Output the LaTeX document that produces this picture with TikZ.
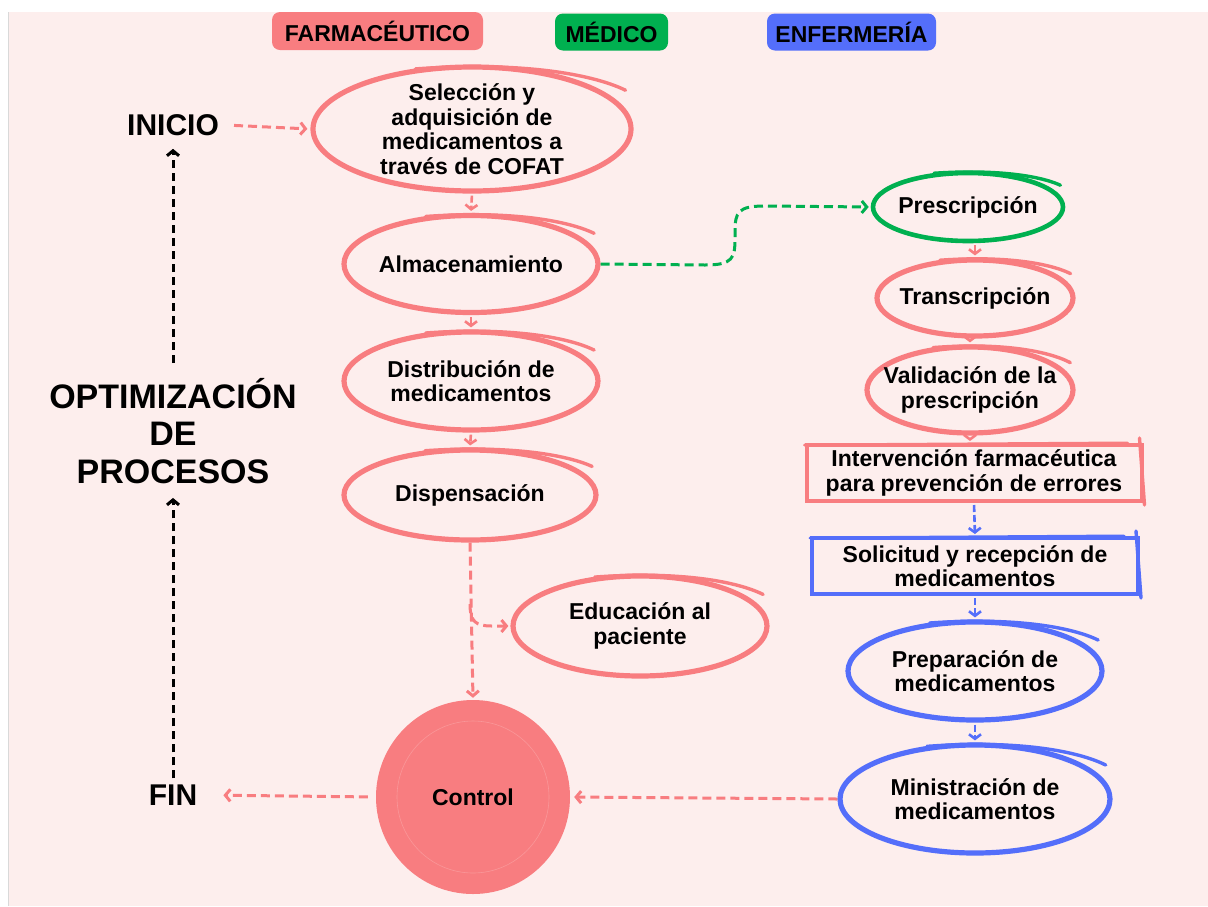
\documentclass[tikz,border=0pt]{standalone}
\usepackage{fontspec}
\setmainfont{Liberation Sans}
\usetikzlibrary{arrows.meta,calc,shapes.geometric}
\definecolor{bgc}{RGB}{253,238,237}
\definecolor{redc}{RGB}{248,125,128}
\definecolor{greenc}{RGB}{0,176,80}
\definecolor{bluec}{RGB}{84,110,250}
\newcommand\swoosh[2]{%
  \draw[#2, line width=3.4pt, line cap=round] let \p1=(#1.center), \p2=(#1.east), \p3=(#1.north) in
    ({\x1-0.35*(\x2-\x1)}, {\y1+0.93*(\y3-\y1)})
    .. controls ({\x1+0.25*(\x2-\x1)}, {\y1+1.04*(\y3-\y1)}) and ({\x1+0.72*(\x2-\x1)}, {\y1+0.88*(\y3-\y1)})
    .. ({\x1+0.95*(\x2-\x1)}, {\y1+0.6*(\y3-\y1)});}
\newcommand\rsketch[2]{%
  \draw[#2, line width=3.4pt, line cap=round] ($(#1.north east)+(-4,-5)$) -- ($(#1.south east)+(1,2)$);
  \draw[#2, line width=3pt, line cap=round] ($(#1.north west)+(0,2)$) -- ($(#1.north east)+(-16,0)$);}
\tikzset{
  x=1pt, y=-1pt,
  nodefont/.style={font=\fontsize{23}{24.5}\selectfont\bfseries},
  bub/.style={ellipse, draw, line width=5.2pt, inner sep=-40pt, align=center, nodefont, text=black},
  sbox/.style={rectangle, draw, line width=4pt, inner sep=0pt, align=center, nodefont, text=black},
  hdr/.style={rectangle, rounded corners=8pt, inner sep=0pt, nodefont, text=black},
  bigtxt/.style={inner sep=6pt, align=center, text=black},
  tipb/.style={-{Straight Barb[length=5pt,width=12pt]}},
  dashr/.style={redc, line width=3pt, dash pattern=on 9pt off 5pt, tipb},
  dashg/.style={greenc, line width=3pt, dash pattern=on 9pt off 5pt, tipb},
  dashk/.style={black, line width=3pt, dash pattern=on 8pt off 5pt, tipb},
  sarr/.style={line width=2.6pt, dash pattern=on 7pt off 3pt, -{Straight Barb[length=4.5pt,width=12pt]}, shorten <=2pt, shorten >=2pt},
}
\begin{document}
\begin{tikzpicture}
\useasboundingbox (0,0) rectangle (1208,906);
\fill[white] (0,0) rectangle (1208,906);
\fill[bgc] (8,12) rectangle (1208,906);
\draw[black!15, line width=1pt] (8.5,12) -- (8.5,906);

% headers
\node[hdr, fill=redc, minimum width=211, minimum height=38] (hf) at (377.5,31) {FARMACÉUTICO};
\node[hdr, fill=greenc, minimum width=113, minimum height=37] (hm) at (611.5,32) {MÉDICO};
\node[hdr, fill=bluec, minimum width=169, minimum height=37] (he) at (851.5,32) {ENFERMERÍA};

% left labels
\node[bigtxt, font=\fontsize{30}{32}\selectfont\bfseries] (inicio) at (173,125) {INICIO};
\node[bigtxt, font=\fontsize{34}{37.5}\selectfont\bfseries] (optim) at (173,431) {OPTIMIZACIÓN\\DE\\PROCESOS};
\node[bigtxt, font=\fontsize{30}{32}\selectfont\bfseries] (fin) at (173,795) {FIN};

% pharmacist column
\node[bub, draw=redc, minimum width=318, minimum height=124] (sel) at (472,129) {Selección y\\adquisición de\\medicamentos a\\través de COFAT};
\node[bub, draw=redc, minimum width=254, minimum height=97] (alm) at (471,264) {Almacenamiento};
\node[bub, draw=redc, minimum width=254, minimum height=98] (dist) at (471,381) {Distribución de\\medicamentos};
\node[bub, draw=redc, minimum width=252, minimum height=90] (disp) at (470,495) {Dispensación};
\node[bub, draw=redc, minimum width=254, minimum height=100] (edu) at (640,626) {Educación al\\paciente};
\node[circle, fill=redc, minimum size=194, inner sep=0pt, nodefont, text=black] (control) at (473,797) {Control};
\draw[white, opacity=0.2, line width=0.6pt] (control.center) circle[radius=76];

% right column
\node[bub, draw=greenc, line width=4.6pt, minimum width=190, minimum height=68] (presc) at (968,207) {Prescripción};
\node[bub, draw=redc, minimum width=196, minimum height=76] (trans) at (975,298) {Transcripción};
\node[bub, draw=redc, minimum width=206, minimum height=86] (valid) at (970,390) {Validación de la\\prescripción};
\node[sbox, draw=redc, minimum width=335, minimum height=56] (interv) at (974,473) {Intervención farmacéutica\\para prevención de errores};
\node[sbox, draw=bluec, minimum width=326, minimum height=56] (solic) at (975,566) {Solicitud y recepción de\\medicamentos};
\node[bub, draw=bluec, minimum width=254, minimum height=98] (prep) at (975,671) {Preparación de\\medicamentos};
\node[bub, draw=bluec, minimum width=270, minimum height=108] (minis) at (975,799) {Ministración de\\medicamentos};

% sketch strokes
\swoosh{sel}{redc}
\swoosh{alm}{redc}
\swoosh{dist}{redc}
\swoosh{disp}{redc}
\swoosh{edu}{redc}
\swoosh{presc}{greenc}
\swoosh{trans}{redc}
\swoosh{valid}{redc}
\swoosh{prep}{bluec}
\swoosh{minis}{bluec}
\rsketch{interv}{redc}
\rsketch{solic}{bluec}

% connectors
\draw[dashr, shorten <=9pt, shorten >=3pt] (inicio.east) -- (sel.west);
\draw[sarr, redc] (sel.south) -- (alm.north);
\draw[sarr, redc] (alm.south) -- (dist.north);
\draw[sarr, redc] (dist.south) -- (disp.north);
\draw[dashr, shorten >=2pt] (disp.south) -- (control.north);
\coordinate (br) at (470,604);
\draw[dashr, shorten >=2pt] (br) .. controls (470,622) and (476,626) .. (492,626) -- (edu.west);
\draw[dashg, shorten >=2pt] (alm.east) -- (705,265) .. controls (733,265) and (735,258) .. (735,238) -- (735,232) .. controls (735,212) and (738,206) .. (765,206) -- (presc.west);
\draw[sarr, redc] (trans.north |- presc.south) -- (trans.north);
\draw[sarr, redc] (valid.north |- trans.south) -- (valid.north);
\draw[sarr, redc] (valid.south) -- (valid.south |- interv.north);
\draw[sarr, bluec] (interv.south) -- (solic.north);
\draw[sarr, bluec] (solic.south) -- (prep.north);
\draw[sarr, bluec] (prep.south) -- (minis.north);
\draw[dashr, shorten >=4pt] (minis.west) -- (control.east);
\draw[dashr, shorten <=8pt, shorten >=20pt] (control.west) -- (fin.east);
\draw[dashk, shorten >=8pt] (fin.north) -- (optim.south);
\draw[dashk, shorten <=9pt, shorten >=7pt] (optim.north) -- (inicio.south);
\end{tikzpicture}
\end{document}
